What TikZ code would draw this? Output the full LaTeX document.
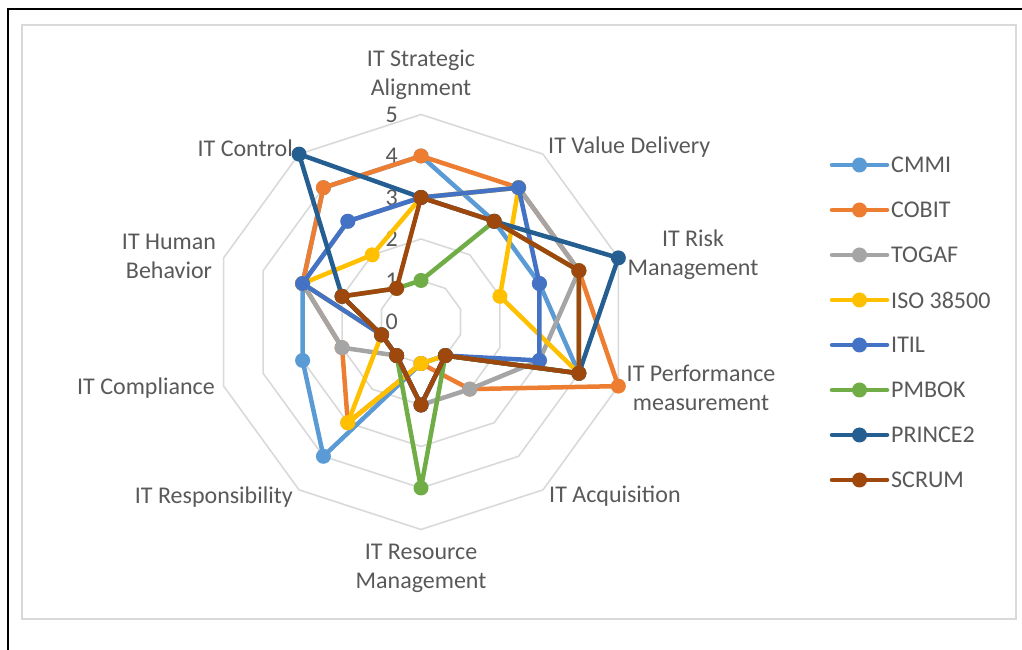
\documentclass[tikz,border=0pt]{standalone}
\usepackage{fontspec}
\setmainfont{Carlito}
\usetikzlibrary{calc}
\definecolor{cmmiC}{HTML}{5B9BD5}
\definecolor{cobitC}{HTML}{ED7D31}
\definecolor{togafC}{HTML}{A5A5A5}
\definecolor{isoC}{HTML}{FFC000}
\definecolor{itilC}{HTML}{4472C4}
\definecolor{pmbokC}{HTML}{70AD47}
\definecolor{princeC}{HTML}{255E91}
\definecolor{scrumC}{HTML}{9E480E}
\definecolor{gridC}{HTML}{D9D9D9}
\definecolor{txtC}{HTML}{595959}

\tikzset{
  axlabel/.style={text=txtC, font=\fontsize{24}{29}\selectfont, inner sep=0pt, align=center},
  ticklabel/.style={text=txtC, font=\fontsize{24}{29}\selectfont, inner sep=0pt, anchor=east},
  gridring/.style={draw=gridC, line width=1.6pt},
  series/.style={line width=4.5pt, line join=round, line cap=round},
}

\begin{document}
\begin{tikzpicture}[x=1pt,y=1pt]
\useasboundingbox (0,0) rectangle (1022,650);

% frame
\draw[line width=2.5pt] (8,0) -- (8,641) -- (1022,641);
\draw[gridC, line width=1.5pt] (22,31) rectangle (1016,625);

\coordinate (C) at (421,328);

% rings
\foreach \j in {1,...,5}
  \draw[gridring, shift={(C)}] (90:{41.5*\j}) \foreach \k in {1,...,9}{ -- ({90-36*\k}:{41.5*\j})} -- cycle;

% scale
\foreach \t in {0,...,5}
  \node[ticklabel] (tick\t) at (398,{328+41.5*\t}) {\t};

% axis names
\node[axlabel] (l-sa) at (421,575) {IT Strategic\\Alignment};
\node[axlabel, anchor=west] (l-vd) at (548,503) {IT Value Delivery};
\node[axlabel] (l-rm) at (693,395) {IT Risk\\Management};
\node[axlabel] (l-pm) at (701,262) {IT Performance\\measurement};
\node[axlabel, anchor=west] (l-aq) at (549,154) {IT Acquisition};
\node[axlabel] (l-res) at (421,82) {IT Resource\\Management};
\node[axlabel, anchor=east] (l-resp) at (293,153) {IT Responsibility};
\node[axlabel, anchor=east] (l-comp) at (215,262) {IT Compliance};
\node[axlabel] (l-hb) at (169,394) {IT Human\\Behavior};
\node[axlabel, anchor=east] (l-ctl) at (293,502) {IT Control};

% series
\foreach \sname/\scol/\vals in {
  cmmi/cmmiC/{4,3,3,4,1,1,4,3,3,4},
  cobit/cobitC/{4,4,4,5,2,1,3,2,3,4},
  togaf/togafC/{3,4,4,3,2,2,1,2,3,3},
  iso/isoC/{3,4,2,4,1,1,3,1,3,2},
  itil/itilC/{3,4,3,3,1,2,1,1,3,3},
  pmbok/pmbokC/{1,3,4,4,1,4,1,1,2,1},
  prince/princeC/{3,3,5,4,1,2,1,1,2,5},
  scrum/scrumC/{3,3,4,4,1,2,1,1,2,1}}{
  \foreach \v [count=\k from 0] in \vals
    \coordinate (\sname-\k) at ($(C)+({90-36*\k}:{41.5*\v})$);
  \draw[series, \scol] (\sname-0) \foreach \k in {1,...,9}{ -- (\sname-\k)} -- cycle;
  \foreach \k in {0,...,9}
    \fill[\scol] (\sname-\k) circle (7.5pt);
}

% legend
\foreach \sname/\scol/\slabel [count=\i from 0] in {
  cmmi/cmmiC/CMMI, cobit/cobitC/COBIT, togaf/togafC/TOGAF, iso/isoC/ISO 38500,
  itil/itilC/ITIL, pmbok/pmbokC/PMBOK, prince/princeC/PRINCE2, scrum/scrumC/SCRUM}{
  \coordinate (leg-\sname-a) at (832,{485-45*\i});
  \coordinate (leg-\sname-b) at (887,{485-45*\i});
  \draw[series, \scol] (leg-\sname-a) -- (leg-\sname-b);
  \fill[\scol] ($(leg-\sname-a)!0.5!(leg-\sname-b)$) circle (7.5pt);
  \node[axlabel, anchor=west] (leg-\sname) at (891,{485-45*\i}) {\slabel};
}
\end{tikzpicture}
\end{document}
